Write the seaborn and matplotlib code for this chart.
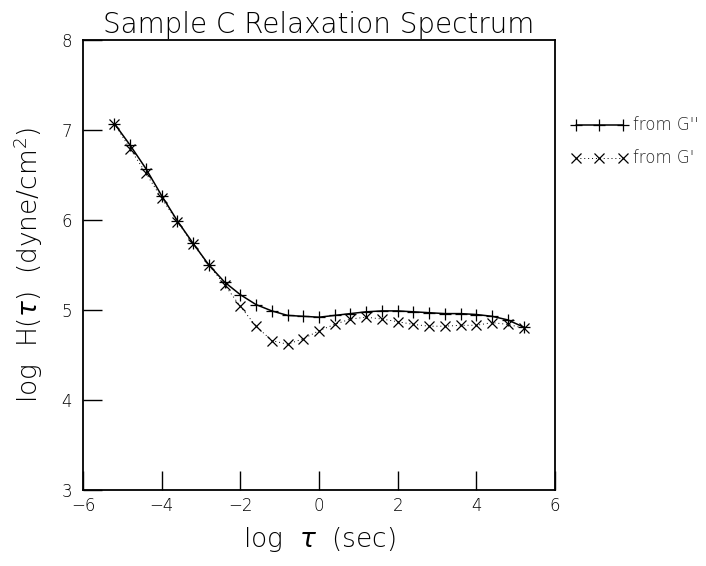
import matplotlib
matplotlib.use("Agg")
import matplotlib.pyplot as plt
import seaborn as sns
import pandas as pd

# log relaxation time (sec)
log_tau = [-5.2, -4.8, -4.4, -4.0, -3.6, -3.2, -2.8, -2.4, -2.0, -1.6, -1.2, -0.8, -0.4,
           0.0, 0.4, 0.8, 1.2, 1.6, 2.0, 2.4, 2.8, 3.2, 3.6, 4.0, 4.4, 4.8, 5.2]
# log H(tau) computed from the loss modulus G''
from_g2 = [7.07, 6.83, 6.57, 6.27, 5.99, 5.74, 5.50, 5.31, 5.17, 5.06, 4.99, 4.94, 4.93,
           4.92, 4.94, 4.96, 4.98, 4.99, 4.99, 4.98, 4.97, 4.96, 4.96, 4.95, 4.93, 4.89, 4.81]
# log H(tau) computed from the storage modulus G'
from_g1 = [7.07, 6.79, 6.52, 6.24, 5.98, 5.73, 5.50, 5.28, 5.04, 4.82, 4.66, 4.62, 4.68,
           4.77, 4.84, 4.90, 4.92, 4.90, 4.87, 4.84, 4.82, 4.82, 4.83, 4.83, 4.86, 4.84, 4.80]

x_ticks = [-6, -4, -2, 0, 2, 4, 6]
y_ticks = [3, 4, 5, 6, 7, 8]

sns.set_style("white")
plt.rcParams["font.family"] = ["DejaVu Sans"]
plt.rcParams["font.weight"] = "light"
plt.rcParams["axes.titleweight"] = "light"
plt.rcParams["axes.labelweight"] = "light"
plt.rcParams["mathtext.fontset"] = "dejavusans"

df = pd.DataFrame({"log_tau": log_tau, "g2": from_g2, "g1": from_g1})

fig = plt.figure(figsize=(7.06, 5.66), dpi=100)
ax = fig.add_axes([83 / 706, 1 - 490 / 566, (555 - 83) / 706, (490 - 40) / 566])

sns.lineplot(data=df, x="log_tau", y="g2", ax=ax, color="black", linewidth=1.1,
             marker="+", markersize=8, markeredgewidth=0.9,
             markeredgecolor="black", markerfacecolor="black", label="from G''")
sns.lineplot(data=df, x="log_tau", y="g1", ax=ax, color="black", linewidth=0.7,
             linestyle=(0, (1, 3)), marker="x", markersize=6.5, markeredgewidth=0.9,
             markeredgecolor="black", markerfacecolor="black", label="from G'")

ax.set_xlim(-6, 6)
ax.set_ylim(3, 8)
ax.set_xticks(x_ticks)
ax.set_yticks(y_ticks)
ax.set_xticklabels([str(v).replace("-", "\u2212") for v in x_ticks])
ax.set_yticklabels([str(v) for v in y_ticks])
ax.tick_params(axis="both", direction="in", length=14, width=1.0, color="black",
               labelsize=12, labelcolor="black")
ax.tick_params(axis="x", pad=5)
ax.tick_params(axis="y", pad=8)
ax.tick_params(top=False, right=False, bottom=True, left=True)

for side in ["left", "right", "top", "bottom"]:
    ax.spines[side].set_visible(True)
    ax.spines[side].set_color("black")
    ax.spines[side].set_linewidth(1.3)

ax.set_title("Sample C Relaxation Spectrum", fontsize=20, pad=5, color="black")
ax.set_xlabel(r"log  $\tau$  (sec)", fontsize=19, labelpad=7, color="black")
ax.set_ylabel(r"log  H($\tau$)  (dyne/cm$^{2}$)", fontsize=19, labelpad=12, color="black")

leg = ax.legend(loc="upper left", bbox_to_anchor=(1.02, 0.845), frameon=False,
                numpoints=3, handlelength=3.4, handletextpad=0.3, fontsize=12,
                labelspacing=0.9, borderaxespad=0)

fig.savefig("out.png", dpi=100, facecolor="white")
